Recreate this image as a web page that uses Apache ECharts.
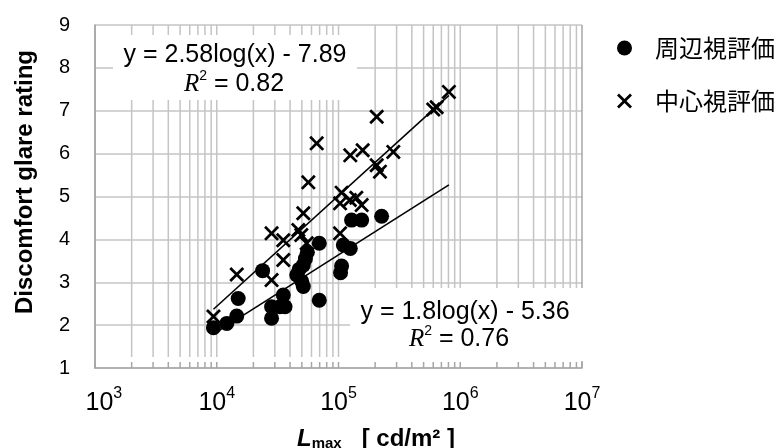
<!DOCTYPE html>
<html><head><meta charset="utf-8">
<script src="https://cdn.jsdelivr.net/npm/echarts@6/dist/echarts.min.js"></script>
<style>html,body{margin:0;padding:0;background:#fff}#c{width:781px;height:448px}</style>
</head><body><div id="c"></div>
<script>
// 周辺視評価 (circles)
const periX = [9400,12100,14600,15000,23800,28200,28200,33000,35200,36400,45400,47500,49900,51400,51400,53500,55500,69500,69500,104000,106000,109600,125000,128000,155000,226000];
const periY = [1.94,2.04,2.21,2.62,3.27,2.16,2.43,2.43,2.70,2.43,3.17,3.30,3.02,2.90,3.40,3.55,3.70,3.91,2.58,3.22,3.38,3.87,3.79,4.45,4.45,4.54];
// 中心視評価 (crosses)
const centX = [9400,14600,28200,28200,35200,35200,46800,49500,51400,54800,56500,66200,103000,103000,106000,124000,140000,155000,125000,158000,206000,206000,219000,282000,600000,640000,807000];
const centY = [2.20,3.18,4.14,3.05,3.98,3.52,4.22,4.10,4.61,3.91,5.33,6.24,4.14,4.84,5.09,4.92,4.97,4.80,5.96,6.08,6.86,5.73,5.58,6.04,7.03,7.08,7.44];
// trend line endpoints
const trendCentX = [9400, 807000], trendCentY = [2.37, 7.36];
const trendPeriX = [9400, 807000], trendPeriY = [1.79, 5.27];
const seriesNames = ['周辺視評価','中心視評価'];
const eqCent = ['y = 2.58log(x) - 7.89', '0.82'];
const eqPeri = ['y = 1.8log(x) - 5.36', '0.76'];
const yTicks = [1,2,3,4,5,6,7,8,9];

const gridVals = [];
for (let e = 3; e < 7; e++) for (let m = 1; m <= 9; m++) gridVals.push([m * Math.pow(10, e)]);
gridVals.push([1e7]);

const crossPath = 'path://M0,1.3L1.3,0L5,3.7L8.7,0L10,1.3L6.3,5L10,8.7L8.7,10L5,6.3L1.3,10L0,8.7L3.7,5Z';
const FONT = '"Liberation Sans", Arial, sans-serif';
const GRID = '#c4c4c4';

const chart = echarts.init(document.getElementById('c'), null, {renderer: 'canvas'});
const zip = (a, b) => a.map((v, i) => [v, b[i]]);

function rText(x, y, r2) {
  return {type:'text', x:x, y:y, z:51, style:{
    text:'{r|R}{s|2}{n| = ' + r2 + '}', align:'center', verticalAlign:'middle',
    rich:{
      r:{fontFamily:'"Liberation Serif", serif', fontStyle:'italic', fontSize:25, fill:'#000', lineHeight:28, verticalAlign:'bottom'},
      s:{fontFamily:FONT, fontSize:14, fill:'#000', lineHeight:28, verticalAlign:'top', padding:[0,0,6,0]},
      n:{fontFamily:FONT, fontSize:25, fill:'#000', lineHeight:28, verticalAlign:'bottom'}
    }}};
}

chart.setOption({
  animation: false,
  grid: {left: 95, right: 199, top: 25, bottom: 80, containLabel: false, outerBoundsMode: 'none'},
  legend: {
    orient: 'vertical', left: 612, top: 31, itemWidth: 51, itemHeight: 15, itemGap: 29,
    data: seriesNames,
    textStyle: {fontFamily: '"Noto Sans CJK JP", sans-serif', fontSize: 24, color: '#000'}
  },
  xAxis: {
    type: 'log', logBase: 10, min: 1000, max: 1e7,
    axisLine: {show: true, lineStyle: {color: '#a6a6a6', width: 1.5}},
    axisTick: {show: false}, splitLine: {show: false},
    axisLabel: {
      margin: 18,
      formatter: (v) => (Math.round(Math.log10(v)) === 3 ? '{p|00}' : '') + '{b|10}{s|' + Math.round(Math.log10(v)) + '}',
      rich: {
        p: {fontFamily: FONT, fontSize: 16, color: 'rgba(0,0,0,0)', lineHeight: 30},
        b: {fontFamily: FONT, fontSize: 25, color: '#000', lineHeight: 30, verticalAlign: 'bottom'},
        s: {fontFamily: FONT, fontSize: 16, color: '#000', lineHeight: 30, verticalAlign: 'top', padding:[0,0,10,0]}
      }
    }
  },
  yAxis: {
    type: 'value', min: 1, max: 9, interval: 1,
    axisLine: {show: true, lineStyle: {color: '#a6a6a6', width: 1.5}},
    axisTick: {show: false},
    splitLine: {show: true, lineStyle: {color: GRID, width: 1.5}},
    axisLabel: {margin: 25, fontFamily: FONT, fontSize: 20, color: '#000',
      formatter: v => yTicks.includes(v) ? String(v) : ''}
  },
  graphic: [
    {type:'text', x: 25, y: 182, rotation: Math.PI/2, z: 51,
      style:{text:'Discomfort glare rating', font:'bold 24px ' + FONT, fill:'#000', align:'center', verticalAlign:'middle'}},
    {type:'text', x: 376, y: 427, z: 51, style:{
      text:'{L|L}{m|max}{u|   [ cd/m² ]}', align:'center', verticalAlign:'top',
      rich:{
        L:{fontFamily: FONT, fontWeight:'bold', fontStyle:'italic', fontSize:24, fill:'#000', lineHeight:26, verticalAlign:'top'},
        m:{fontFamily: FONT, fontWeight:'bold', fontSize:15, fill:'#000', lineHeight:26, verticalAlign:'top', padding:[9,0,0,0]},
        u:{fontFamily: FONT, fontWeight:'bold', fontSize:24, fill:'#000', lineHeight:26, verticalAlign:'top'}
      }}},
    {type:'rect', shape:{x:113, y:35, width:244, height:65}, style:{fill:'#fff'}, z:50},
    {type:'text', x:235, y:55, z:51, style:{text:eqCent[0], font:'25px ' + FONT, fill:'#000', align:'center', verticalAlign:'middle'}},
    rText(234, 83, eqCent[1]),
    {type:'rect', shape:{x:350, y:288, width:236, height:73}, style:{fill:'#fff'}, z:50},
    {type:'text', x:465, y:312, z:51, style:{text:eqPeri[0], font:'25px ' + FONT, fill:'#000', align:'center', verticalAlign:'middle'}},
    rText(459, 338, eqPeri[1])
  ],
  series: [
    {type:'custom', silent:true, z:1, data: gridVals, renderItem: (p, api) => {
      const v = api.value(0);
      const top = api.coord([v, 9]), bot = api.coord([v, 1]);
      const full = (v === 1000 || v === 1e7);
      return {type:'line', shape:{x1:top[0], y1:top[1], x2:top[0], y2: full ? bot[1] : bot[1] - 11},
        style:{stroke: full ? '#a6a6a6' : GRID, lineWidth:1.5}};
    }},
    {type:'custom', silent:true, z:60, data: gridVals, renderItem: (p, api) => {
      const bot = api.coord([api.value(0), 1]);
      return {type:'line', shape:{x1:bot[0], y1:bot[1], x2:bot[0], y2:bot[1] - 6},
        style:{stroke:'#a6a6a6', lineWidth:1.5}};
    }},
    {type:'line', silent:true, z:3, data: zip(trendCentX, trendCentY), symbol:'none', lineStyle:{color:'#000', width:1.6}},
    {type:'line', silent:true, z:3, data: zip(trendPeriX, trendPeriY), symbol:'none', lineStyle:{color:'#000', width:1.6}},
    {name: seriesNames[0], type:'scatter', z:4, symbol:'circle', symbolSize:15, data: zip(periX, periY), itemStyle:{color:'#000', opacity:1}},
    {name: seriesNames[1], type:'scatter', z:5, symbol: crossPath, symbolSize:15, data: zip(centX, centY), itemStyle:{color:'#000', opacity:1}}
  ]
});
</script></body></html>
